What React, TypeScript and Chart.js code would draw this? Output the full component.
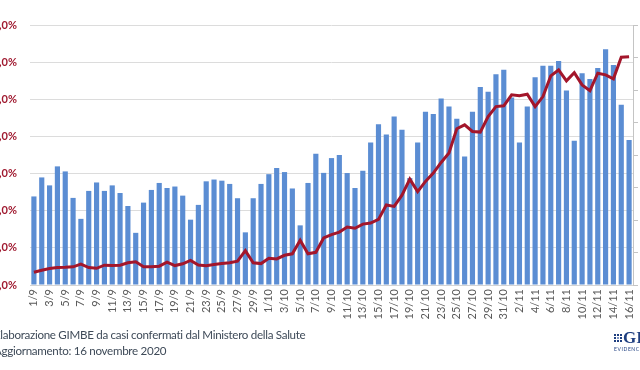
import React, { useEffect, useRef } from 'react';
import { Chart, registerables } from 'chart.js';
Chart.register(...registerables);

const days: string[] = [
  '1/9','2/9','3/9','4/9','5/9','6/9','7/9','8/9','9/9','10/9',
  '11/9','12/9','13/9','14/9','15/9','16/9','17/9','18/9','19/9','20/9',
  '21/9','22/9','23/9','24/9','25/9','26/9','27/9','28/9','29/9','30/9',
  '1/10','2/10','3/10','4/10','5/10','6/10','7/10','8/10','9/10','10/10',
  '11/10','12/10','13/10','14/10','15/10','16/10','17/10','18/10','19/10','20/10',
  '21/10','22/10','23/10','24/10','25/10','26/10','27/10','28/10','29/10','30/10',
  '31/10','1/11','2/11','3/11','4/11','5/11','6/11','7/11','8/11','9/11',
  '10/11','11/11','12/11','13/11','14/11','15/11','16/11'
];

// Bars (right axis): daily tested
const tested: number[] = [
  54500, 66200, 61300, 73000, 69900, 53600, 40700, 57900, 63100, 57900,
  61300, 56600, 48600, 32100, 50700, 58500, 62800, 59700, 60600, 55000,
  40200, 49300, 63800, 64900, 64200, 62200, 53400, 32400, 53400, 62200,
  68200, 72000, 69500, 59400, 36700, 62800, 80800, 69000, 78100, 80000,
  68900, 59700, 70300, 87700, 99000, 92600, 103700, 95500, 65800, 87700,
  106600, 105200, 114700, 109800, 102300, 79100, 106600, 121900, 119000, 129700,
  132500, 115400, 87700, 109800, 127900, 135000, 135000, 137900, 119700, 88800,
  130300, 126800, 133600, 145100, 135400, 110900, 89200
];

// Line (left axis): positivity %
const positivity: number[] = [
  1.03, 1.19, 1.33, 1.41, 1.43, 1.47, 1.68, 1.41, 1.35, 1.60,
  1.57, 1.60, 1.79, 1.87, 1.47, 1.47, 1.52, 1.84, 1.57, 1.71,
  1.98, 1.61, 1.55, 1.65, 1.73, 1.79, 1.92, 2.78, 1.79, 1.73,
  2.16, 2.11, 2.40, 2.52, 3.61, 2.52, 2.64, 3.80, 4.07, 4.27,
  4.68, 4.58, 4.92, 5.00, 5.30, 6.46, 6.35, 7.26, 8.55, 7.54,
  8.37, 9.04, 9.90, 10.66, 12.62, 12.94, 12.40, 12.35, 13.61, 14.41,
  14.47, 15.36, 15.28, 15.41, 14.41, 15.22, 16.89, 17.37, 16.49, 17.15,
  16.16, 15.70, 17.11, 16.97, 16.65, 18.40, 18.44
];

const leftTicksMax = 21;
const leftTicksStep = 3;
const rightTicksMax = 160000;
const rightTicksStep = 20000;

const footerLine1 = 'Elaborazione GIMBE da casi confermati dal Ministero della Salute';
const footerLine2 = 'Aggiornamento: 16 novembre 2020';

export default function App() {
  const ref = useRef<HTMLCanvasElement>(null);
  useEffect(() => {
    if (!ref.current) return;
    const chart = new Chart(ref.current, {
      type: 'bar',
      data: {
        labels: days,
        datasets: [
          {
            type: 'line',
            data: positivity,
            yAxisID: 'y',
            borderColor: '#a3162b',
            backgroundColor: '#a3162b',
            borderWidth: 3,
            pointRadius: 0,
            tension: 0,
            order: 0,
          } as any,
          {
            type: 'bar',
            data: tested,
            yAxisID: 'y1',
            backgroundColor: '#5b8dd3',
            barPercentage: 0.66,
            categoryPercentage: 1.0,
            order: 1,
          } as any,
        ],
      },
      options: {
        responsive: false,
        animation: false,
        devicePixelRatio: 1,
        layout: { padding: { top: 25, left: 0, right: 0, bottom: 0 } },
        plugins: { legend: { display: false }, tooltip: { enabled: false } },
        scales: {
          x: {
            offset: true,
            grid: { display: false, drawTicks: false },
            border: { display: true, color: '#d4d4d4' },
            ticks: {
              autoSkip: false,
              maxRotation: 90,
              minRotation: 90,
              padding: 4,
              color: '#595959',
              font: { family: 'Lato', size: 11 },
              callback: (_v: any, i: number) => (i % 2 === 0 ? days[i] : ''),
            },
            afterFit: (s: any) => { s.height = 45; },
          },
          y: {
            position: 'left',
            min: 0,
            max: leftTicksMax,
            grid: { color: '#dcdcdc', drawTicks: false },
            border: { display: false },
            ticks: {
              stepSize: leftTicksStep,
              padding: 13,
              color: '#a01a30',
              font: { family: 'Lato', size: 11, weight: 'bold' },
              callback: (v: any) => Number(v).toFixed(1).replace('.', ',') + '%',
            },
            afterFit: (s: any) => { s.width = 50; },
          },
          y1: {
            position: 'right',
            min: 0,
            max: rightTicksMax,
            grid: { drawOnChartArea: false, drawTicks: true, tickLength: 5, color: '#c4c4c4' },
            border: { display: true, color: '#c4c4c4' },
            ticks: { stepSize: rightTicksStep, display: false },
            afterFit: (s: any) => { s.width = 27; },
          },
        },
      },
    });
    return () => chart.destroy();
  }, []);

  const cells = Array.from({ length: 9 });
  return (
    <div style={{ position: 'fixed', left: 0, top: 0, width: 640, height: 370, overflow: 'hidden', background: '#fff' }}>
      <canvas ref={ref} width={680} height={330} style={{ position: 'absolute', left: -20, top: 0, width: 680, height: 330 }} />
      <div style={{ position: 'absolute', left: -6, top: 327, fontFamily: 'Lato', fontSize: 11.6, letterSpacing: -0.3, lineHeight: '16px', color: '#3e4a58', whiteSpace: 'nowrap' }}>
        <div>{footerLine1}</div>
        <div>{footerLine2}</div>
      </div>
      <div style={{ position: 'absolute', left: 614, top: 334, width: 9, height: 9, display: 'grid', gridTemplateColumns: 'repeat(3, 2px)', gridTemplateRows: 'repeat(3, 2px)', gap: 1, background: '#fff', padding: 0 }}>
        {cells.map((_, i) => (
          <div key={i} style={{ background: i === 4 ? '#7f96c4' : '#1f3f80' }} />
        ))}
      </div>
      <div style={{ position: 'absolute', left: 623, top: 328, fontFamily: '"Liberation Serif", serif', fontSize: 17, fontWeight: 'bold', color: '#1f3f80', whiteSpace: 'nowrap' }}>GIMBE</div>
      <div style={{ position: 'absolute', left: 614, top: 346, fontFamily: 'Lato', fontSize: 5, letterSpacing: 0.6, color: '#1f3f80', whiteSpace: 'nowrap' }}>EVIDENCE FOR HEALTH</div>
    </div>
  );
}
